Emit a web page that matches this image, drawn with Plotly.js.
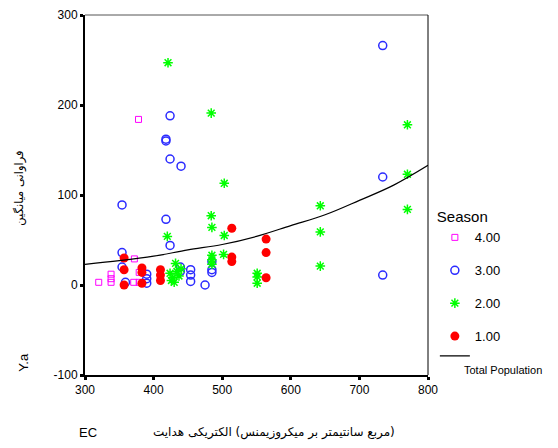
<!DOCTYPE html>
<html>
<head>
<meta charset="utf-8">
<script src="https://cdn.plot.ly/plotly-3.0.1.min.js"></script>
<style>html,body{margin:0;padding:0;background:#fff;}#chart{width:558px;height:448px;}</style>
</head>
<body>
<div id="chart"></div>
<script>
// Season 4.00
const s4x = [378, 372, 379, 338, 338, 338, 320, 371, 379];
const s4y = [184, 29, 14, 12, 7, 3, 3, 3, 3];
// Season 3.00
const s3x = [734, 734, 734, 354, 354, 354, 424, 424, 418, 418, 418, 440, 424, 390, 390, 390, 359, 439, 439, 454, 454, 454, 475, 485, 485, 485];
const s3y = [266, 120, 11, 89, 36, 20, 188, 140, 162, 160, 73, 132, 44, 12, 7, 2, 3, 20, 15, 17, 11, 4, 0, 26, 17, 14];
// Season 2.00
const s2x = [421, 484, 503, 484, 485, 420, 503, 502, 485, 485, 485, 551, 551, 551, 643, 643, 643, 770, 770, 770, 424, 428, 432, 434, 437, 426, 440, 430];
const s2y = [247, 191, 113, 77, 64, 54, 55, 34, 33, 28, 23, 13, 9, 2, 88, 59, 21, 178, 123, 84, 13, 8, 24, 15, 10, 5, 18, 3];
// Season 1.00
const s1x = [357, 357, 357, 383, 383, 383, 410, 410, 410, 514, 514, 514, 564, 564, 564];
const s1y = [30, 17, 0, 19, 14, 2, 17, 11, 5, 63, 31, 26, 51, 36, 8];
// Total Population fit line
const fitX = [300, 350, 400, 450, 500, 550, 600, 650, 700, 750, 800];
const fitY = [23, 27, 32, 39, 45, 54, 66, 78, 94, 111, 133];

const seasonNames = ['4.00', '3.00', '2.00', '1.00'];
const xTicks = [300, 400, 500, 600, 700, 800];
const yTicks = [-100, 0, 100, 200, 300];

// Persian titles: words kept in the left-to-right order seen in the reference
const L = '\u200E';
const xTitleWords = ['هدایت', 'الکتریکی', '(میکروزیمنس', 'بر', 'سانتیمتر', 'مربع)'];
const yTitleWords = ['میانگین', 'فراوانی'];
const ltrJoin = w => L + w.join(L + ' ' + L) + L;

const traces = [
  {x: s4x, y: s4y, name: seasonNames[0], legendgroup: 'g4', type: 'scatter', mode: 'markers',
   marker: {symbol: 'square-open', size: 6, color: '#ff00ff', line: {width: 1}}},
  {x: s3x, y: s3y, name: seasonNames[1], legendgroup: 'g3', type: 'scatter', mode: 'markers',
   marker: {symbol: 'circle-open', size: 8, color: '#2b2bff', line: {width: 1.5}}},
  {x: s2x, y: s2y, name: seasonNames[2], legendgroup: 'g2', type: 'scatter', mode: 'markers',
   marker: {symbol: 'asterisk-open', size: 8, color: '#00ff00', line: {width: 1.5}}},
  {x: s1x, y: s1y, name: seasonNames[3], legendgroup: 'g1', type: 'scatter', mode: 'markers',
   marker: {symbol: 'circle', size: 9, color: '#ff0000'}},
  {x: fitX, y: fitY, name: ' ', legendgroup: 'g1', type: 'scatter', mode: 'lines',
   line: {color: '#000', width: 1.2, shape: 'spline'}}
];

const layout = {
  width: 558, height: 448,
  margin: {l: 85, r: 130, t: 15, b: 73},
  paper_bgcolor: '#fff', plot_bgcolor: '#fff',
  font: {family: 'Liberation Sans, Arial, sans-serif', size: 12, color: '#000'},
  xaxis: {range: [300, 800], tickvals: xTicks, ticktext: xTicks.map(String), showgrid: false, zeroline: false,
          showline: true, linecolor: '#000', linewidth: 2, ticks: 'outside', ticklen: 3, tickwidth: 3, tickcolor: '#000',
          tickfont: {size: 12}},
  yaxis: {range: [-100, 300], tickvals: yTicks, ticktext: yTicks.map(String), showgrid: false, zeroline: false,
          showline: true, linecolor: '#000', linewidth: 2, ticks: 'outside', ticklen: 3, tickwidth: 3, tickcolor: '#000',
          tickfont: {size: 12}},
  showlegend: true,
  legend: {x: 1.02, xanchor: 'left', y: 0.478, yanchor: 'top', tracegroupgap: 13, traceorder: 'grouped',
           title: {text: 'Season', font: {size: 15}}, font: {size: 13}, bgcolor: 'rgba(0,0,0,0)'},
  shapes: [
    {type: 'line', xref: 'paper', yref: 'paper', x0: 0, x1: 1, y0: 1, y1: 1, line: {color: '#555', width: 1}},
    {type: 'line', xref: 'paper', yref: 'paper', x0: 1, x1: 1, y0: 0, y1: 1, line: {color: '#000', width: 1}}
  ],
  annotations: [
    {text: 'Total Population', xref: 'paper', yref: 'paper', x: 1.1, y: 0.014, xanchor: 'left', yanchor: 'middle',
     showarrow: false, font: {size: 11}},
    {text: 'EC', xref: 'paper', yref: 'paper', x: 0.01, y: -0.16, xanchor: 'center', yanchor: 'middle',
     showarrow: false, font: {size: 13}},
    {text: ltrJoin(xTitleWords), xref: 'paper', yref: 'paper',
     x: 0.55, y: -0.16, xanchor: 'center', yanchor: 'middle', showarrow: false, font: {size: 12, family: 'DejaVu Sans'}},
    {text: ltrJoin(yTitleWords), xref: 'paper', yref: 'paper', x: -0.19, y: 0.52, xanchor: 'center', yanchor: 'middle',
     textangle: -90, showarrow: false, font: {size: 11.5, family: 'DejaVu Sans'}},
    {text: 'Y.a', xref: 'paper', yref: 'paper', x: -0.18, y: 0.035, xanchor: 'center', yanchor: 'middle',
     textangle: -90, showarrow: false, font: {size: 13}}
  ]
};

Plotly.newPlot('chart', traces, layout, {displayModeBar: false, staticPlot: true});
</script>
</body>
</html>
